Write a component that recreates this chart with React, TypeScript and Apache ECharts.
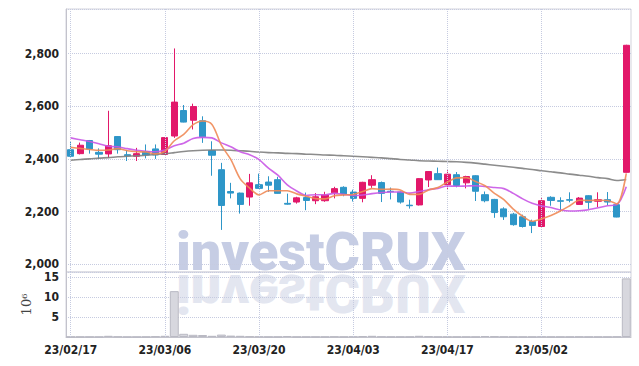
import React, { useEffect, useRef } from "react";
import * as echarts from "echarts";

const dates = [
  "23/02/17", "23/02/20", "23/02/21", "23/02/22", "23/02/23", "23/02/24", "23/02/27", "23/02/28", "23/03/02", "23/03/03",
  "23/03/06", "23/03/07", "23/03/08", "23/03/09", "23/03/10", "23/03/13", "23/03/14", "23/03/15", "23/03/16", "23/03/17",
  "23/03/20", "23/03/21", "23/03/22", "23/03/23", "23/03/24", "23/03/27", "23/03/28", "23/03/29", "23/03/30", "23/03/31",
  "23/04/03", "23/04/04", "23/04/05", "23/04/06", "23/04/07", "23/04/10", "23/04/11", "23/04/12", "23/04/13", "23/04/14",
  "23/04/17", "23/04/18", "23/04/19", "23/04/20", "23/04/21", "23/04/24", "23/04/25", "23/04/26", "23/04/27", "23/04/28",
  "23/05/02", "23/05/03", "23/05/04", "23/05/08", "23/05/09", "23/05/10", "23/05/11", "23/05/12", "23/05/15", "23/05/16",
];

const labelDates = ["23/02/17", "23/03/06", "23/03/20", "23/04/03", "23/04/17", "23/05/02"];

const opens = [
  2435, 2420, 2470, 2425, 2419, 2485, 2416, 2410, 2428, 2438,
  2417, 2487, 2584, 2547, 2545, 2432, 2359, 2276, 2270, 2255,
  2302, 2312, 2321, 2231, 2236, 2253, 2241, 2241, 2271, 2292,
  2274, 2250, 2300, 2310, 2277, 2274, 2224, 2225, 2320, 2344,
  2302, 2340, 2309, 2336, 2264, 2246, 2210, 2190, 2180, 2162,
  2143, 2254, 2241, 2245, 2227, 2260, 2239, 2245, 2226, 2349,
];
const closes = [
  2410, 2452, 2438, 2418, 2450, 2435, 2412, 2420, 2415, 2415,
  2481, 2616, 2540, 2599, 2484, 2414, 2223, 2270, 2227, 2309,
  2288, 2300, 2269, 2228, 2252, 2242, 2256, 2263, 2287, 2267,
  2250, 2311, 2321, 2269, 2275, 2236, 2222, 2325, 2352, 2321,
  2342, 2299, 2333, 2277, 2241, 2196, 2180, 2150, 2143, 2147,
  2241, 2242, 2239, 2243, 2251, 2235, 2245, 2236, 2179, 2832,
];
const lows = [
  2405, 2417, 2420, 2400, 2404, 2420, 2392, 2392, 2402, 2400,
  2415, 2480, 2539, 2512, 2461, 2336, 2130, 2250, 2192, 2222,
  2287, 2275, 2268, 2226, 2230, 2205, 2228, 2237, 2250, 2258,
  2238, 2235, 2290, 2236, 2246, 2230, 2211, 2223, 2293, 2320,
  2284, 2292, 2288, 2240, 2235, 2176, 2168, 2146, 2139, 2118,
  2142, 2222, 2200, 2235, 2226, 2210, 2217, 2223, 2178, 2348,
];
const highs = [
  2465, 2462, 2472, 2440, 2583, 2487, 2434, 2442, 2455, 2455,
  2483, 2820, 2605, 2610, 2562, 2467, 2385, 2309, 2272, 2343,
  2344, 2334, 2332, 2268, 2256, 2272, 2270, 2275, 2294, 2296,
  2283, 2313, 2338, 2314, 2291, 2276, 2245, 2327, 2354, 2367,
  2357, 2350, 2336, 2338, 2276, 2248, 2216, 2195, 2188, 2169,
  2251, 2258, 2254, 2273, 2255, 2262, 2273, 2274, 2228, 2834,
];

// volume in units of 10^6
const volumes = [
  0.05, 0.05, 0.04, 0.03, 0.3, 0.1, 0.03, 0.03, 0.05, 0.15,
  0.3, 11.5, 0.8, 0.55, 0.5, 0.3, 0.6, 0.35, 0.3, 0.15,
  0.08, 0.05, 0.05, 0.25, 0.05, 0.05, 0.04, 0.05, 0.1, 0.05,
  0.08, 0.2, 0.3, 0.08, 0.05, 0.05, 0.05, 0.3, 0.15, 0.05,
  0.05, 0.05, 0.05, 0.05, 0.25, 0.15, 0.06, 0.05, 0.05, 0.05,
  0.08, 0.05, 0.05, 0.05, 0.06, 0.05, 0.05, 0.05, 0.08, 14.7,
];

const ma5 = [
  2444, 2440, 2436, 2433, 2434, 2439, 2431, 2427, 2426, 2419,
  2429, 2469, 2493, 2530, 2544, 2531, 2452, 2398, 2324, 2289,
  2263, 2279, 2279, 2279, 2267, 2258, 2249, 2248, 2260, 2263,
  2265, 2276, 2287, 2284, 2285, 2282, 2265, 2265, 2282, 2291,
  2312, 2328, 2329, 2314, 2298, 2269, 2245, 2209, 2182, 2163,
  2172, 2185, 2202, 2222, 2243, 2242, 2243, 2242, 2229, 2345,
];
const ma10 = [
  2480, 2473, 2466, 2458, 2448, 2446, 2439, 2433, 2429, 2427,
  2434, 2450, 2460, 2478, 2482, 2480, 2461, 2446, 2427, 2416,
  2397, 2365, 2338, 2301, 2278, 2261, 2264, 2263, 2269, 2265,
  2261, 2263, 2268, 2272, 2274, 2274, 2270, 2276, 2283, 2288,
  2297, 2296, 2297, 2298, 2295, 2291, 2287, 2269, 2248, 2231,
  2221, 2215, 2206, 2202, 2203, 2207, 2214, 2222, 2226, 2294,
];
const maLong = [
  2395, 2398, 2400, 2403, 2405, 2408, 2410, 2412, 2414, 2417,
  2420, 2424, 2428, 2431, 2433, 2434, 2434, 2433, 2431, 2429,
  2426, 2424, 2423, 2421, 2420, 2418, 2417, 2415, 2414, 2412,
  2410, 2408, 2406, 2404, 2401, 2398, 2396, 2393, 2392, 2391,
  2390, 2389, 2387, 2384, 2380, 2376, 2372, 2368, 2364, 2360,
  2355, 2351, 2347, 2342, 2338, 2334, 2329, 2325, 2318, 2322,
];

const UP = "#e2186a";
const DOWN = "#2e96c8";
const GRID_LINE = "#c6cbe0";
const LABEL_FONT = '"DejaVu Sans Condensed", "DejaVu Sans", sans-serif';

export default function App() {
  const ref = useRef<HTMLDivElement>(null);

  useEffect(() => {
    if (!ref.current) return;
    const chart = echarts.init(ref.current, undefined, { renderer: "svg" });
    const ohlc = dates.map((_, i) => [opens[i], closes[i], lows[i], highs[i]]);
    const vLines = {
      symbol: ["none", "none"],
      silent: true,
      label: { show: false },
      lineStyle: { type: "dotted", color: GRID_LINE, width: 1 },
      emphasis: { disabled: true },
      data: labelDates.map((d) => ({ xAxis: d })),
    };
    const wmFont = { fontFamily: "Roboto", fontWeight: 900, fontSize: 54 };

    chart.setOption({
      animation: false,
      grid: [
        { left: 66, right: 8, top: 9, height: 263, show: true, borderColor: "#d3d3dc", borderWidth: 1, backgroundColor: "transparent" },
        { left: 66, right: 8, top: 272, height: 65, show: true, borderColor: "#d3d3dc", borderWidth: 1, backgroundColor: "transparent" },
      ],
      graphic: [
        {
          type: "text",
          x: 176,
          y: 251,
          z: 0,
          silent: true,
          style: { text: "investCRUX", ...wmFont, fill: "#c6cde4", align: "left", verticalAlign: "middle" },
        },
        {
          type: "text",
          x: 176,
          y: 293,
          scaleY: -1,
          z: 0,
          silent: true,
          style: { text: "investCRUX", ...wmFont, fill: "#e3e6f0", align: "left", verticalAlign: "middle" },
        },
      ],
      xAxis: [
        {
          type: "category",
          gridIndex: 0,
          data: dates,
          boundaryGap: true,
          axisLine: { show: false },
          axisTick: { show: false },
          axisLabel: { show: false },
          splitLine: { show: false },
        },
        {
          type: "category",
          gridIndex: 1,
          data: dates,
          boundaryGap: true,
          axisLine: { show: true, lineStyle: { color: "#c3c3cc" } },
          axisTick: { show: false },
          axisLabel: {
            interval: (_i: number, v: string) => labelDates.includes(v),
            color: "#222",
            fontFamily: LABEL_FONT,
            fontWeight: "bold",
            fontSize: 12,
            margin: 7,
          },
          splitLine: { show: false },
        },
      ],
      yAxis: [
        {
          type: "value",
          gridIndex: 0,
          min: 1970,
          max: 2970,
          splitNumber: 5,
          axisLine: { show: true, lineStyle: { color: "#c3c3cc" } },
          axisTick: { show: false },
          axisLabel: {
            showMinLabel: false,
            showMaxLabel: false,
            color: "#222",
            fontFamily: LABEL_FONT,
            fontWeight: "bold",
            fontSize: 12,
            lineHeight: 10,
            margin: 7,
            formatter: (v: number) => v.toLocaleString("en-US"),
          },
          splitLine: { show: true, lineStyle: { type: "dotted", color: GRID_LINE } },
        },
        {
          type: "value",
          gridIndex: 1,
          min: 0,
          max: 16.3,
          interval: 5,
          name: "10\u2076",
          nameLocation: "middle",
          nameRotate: 90,
          nameGap: 12,
          nameTextStyle: { color: "#444", fontFamily: "DejaVu Serif", fontSize: 13 },
          axisLine: { show: true, lineStyle: { color: "#c3c3cc" } },
          axisTick: { show: false },
          axisLabel: {
            showMinLabel: false,
            showMaxLabel: false,
            color: "#222",
            fontFamily: LABEL_FONT,
            fontWeight: "bold",
            fontSize: 12,
            lineHeight: 10,
            margin: 7,
          },
          splitLine: { show: true, lineStyle: { type: "dotted", color: GRID_LINE } },
        },
      ],
      series: [
        {
          type: "candlestick",
          xAxisIndex: 0,
          yAxisIndex: 0,
          data: ohlc,
          barWidth: "70%",
          itemStyle: { color: UP, color0: DOWN, borderColor: UP, borderColor0: DOWN, borderWidth: 1 },
          markLine: vLines,
          z: 3,
        },
        {
          type: "line",
          xAxisIndex: 0,
          yAxisIndex: 0,
          data: maLong,
          showSymbol: false,
          smooth: 0.3,
          lineStyle: { color: "#7f7f7f", width: 1.6, opacity: 0.9 },
          z: 4,
        },
        {
          type: "line",
          xAxisIndex: 0,
          yAxisIndex: 0,
          data: ma10,
          showSymbol: false,
          smooth: 0.3,
          lineStyle: { color: "#c956e6", width: 1.6, opacity: 0.9 },
          z: 5,
        },
        {
          type: "line",
          xAxisIndex: 0,
          yAxisIndex: 0,
          data: ma5,
          showSymbol: false,
          smooth: 0.3,
          lineStyle: { color: "#f08a56", width: 1.6, opacity: 0.9 },
          z: 6,
        },
        {
          type: "bar",
          xAxisIndex: 1,
          yAxisIndex: 1,
          data: volumes,
          barWidth: "95%",
          itemStyle: { color: "#d7d7de", borderColor: "#b9b9c3", borderWidth: 1 },
          markLine: vLines,
          z: 3,
        },
      ],
    });
    return () => chart.dispose();
  }, []);

  return (
    <div
      ref={ref}
      style={{ position: "absolute", left: 0, top: 0, width: 639, height: 366, background: "#fff" }}
    />
  );
}
